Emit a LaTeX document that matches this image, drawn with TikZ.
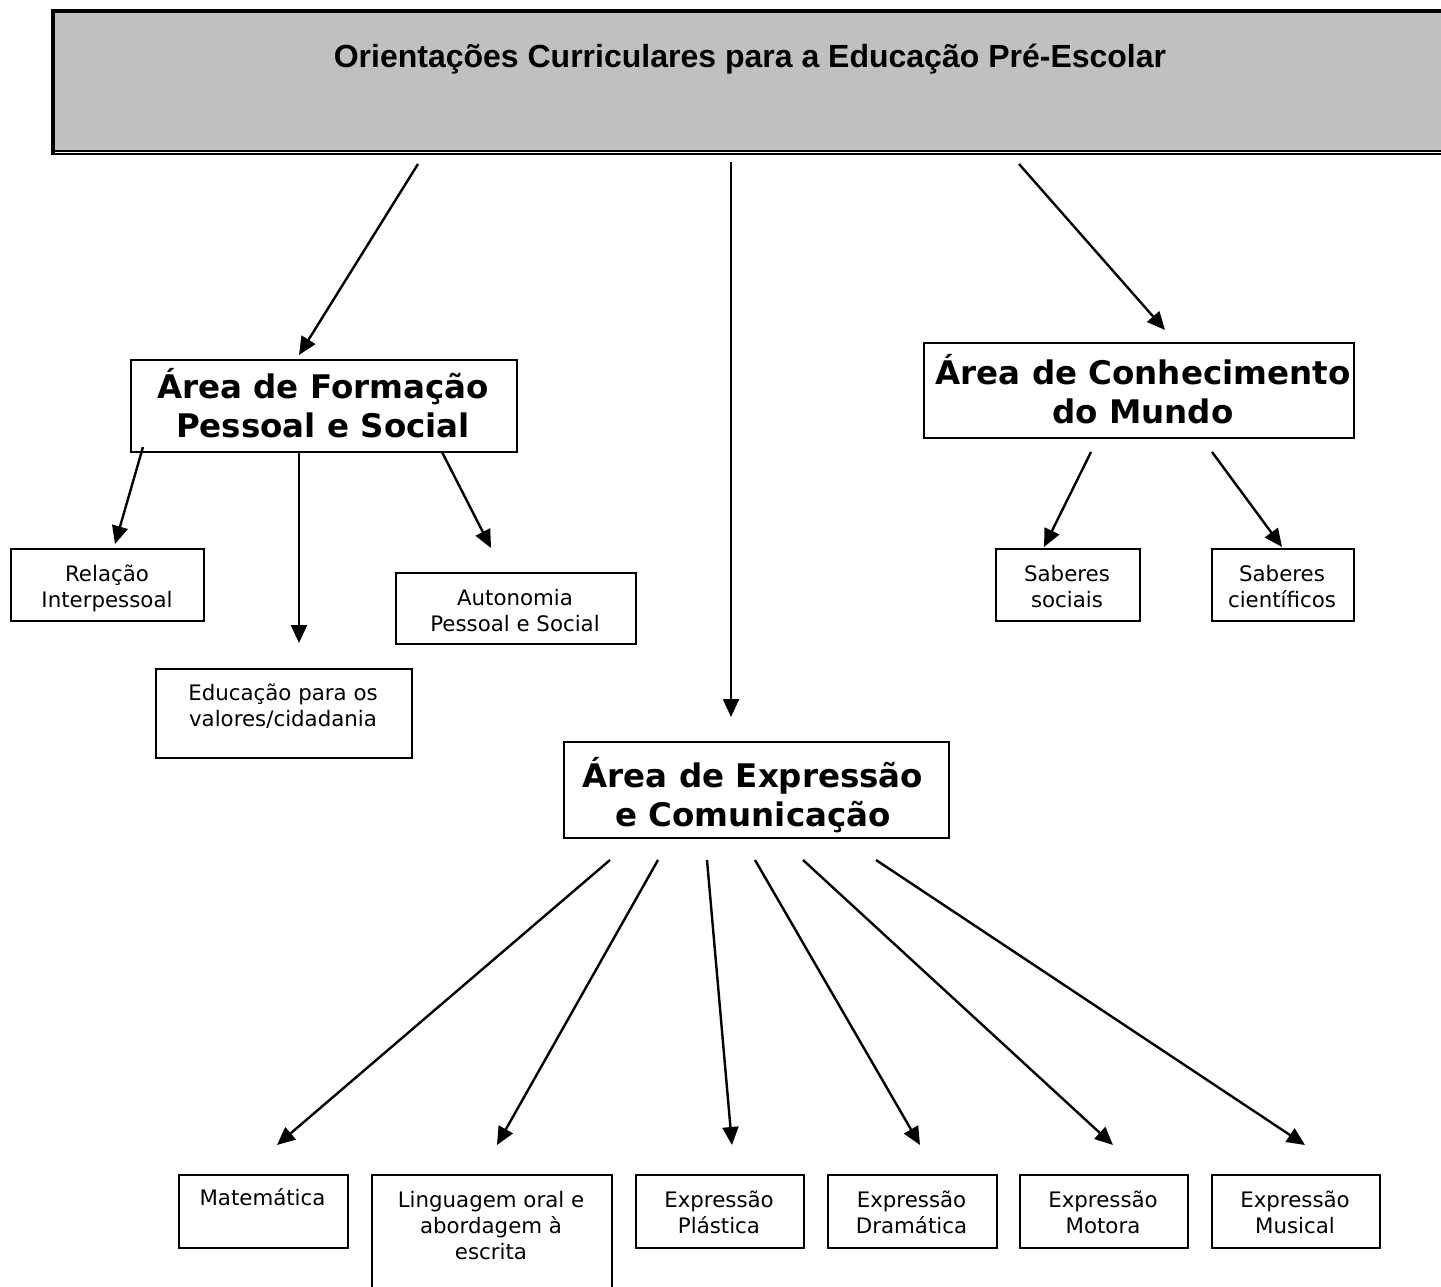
\documentclass[tikz,border=0pt]{standalone}
\usepackage{fontspec}
\setmainfont{DejaVu Sans}
\newfontfamily\titlefont{Liberation Sans}
\usetikzlibrary{arrows.meta}
\definecolor{boxgray}{RGB}{192,192,192}
\newcommand{\mlines}[1]{\begin{tabular}[t]{@{}c@{}}#1\end{tabular}}
\begin{document}
\begin{tikzpicture}[x=1pt,y=-1pt,
  bx/.style={draw=black, line width=2.2pt, rectangle, inner sep=0pt, anchor=north west},
  lbl/.style={anchor=base, inner sep=0pt, font=\fontsize{21.33}{26}\selectfont},
  big/.style={anchor=base, inner sep=0pt, font=\fontsize{32.5}{39}\selectfont\bfseries},
  arr/.style={line width=2.4pt, -{Triangle[length=18pt,width=16pt]}}
]
\path[use as bounding box] (0,0) rectangle (1441,1287);
\clip (0,0) rectangle (1441,1287);

% title box
\node[fill=boxgray, inner sep=0pt, anchor=north west, minimum width=1400pt, minimum height=141pt] (top) at (53,11) {};
\draw[line width=4pt] (53,9) -- (53,155);
\draw[line width=4pt] (51,11) -- (1460,11);
\draw[line width=2pt] (53,151) -- (1460,151);
\draw[line width=2pt] (51,154) -- (1460,154);
\node[anchor=base, inner sep=0pt, font=\titlefont\bfseries\fontsize{32}{38}\selectfont] (toptext) at (750,68) {Orientações Curriculares para a Educação Pré-Escolar};

% area boxes
\node[bx, minimum width=386pt, minimum height=92pt] (form) at (130,359) {};
\node[big] (formt) at (323,398) {\mlines{Área de Formação\\Pessoal e Social}};
\node[bx, minimum width=430pt, minimum height=95pt] (conh) at (923,342) {};
\node[big] (conht) at (1143,384) {\mlines{Área de Conhecimento\\do Mundo}};
\node[bx, minimum width=385pt, minimum height=96pt] (expr) at (563,741) {};
\node[big] (exprt) at (753,787) {\mlines{Área de Expressão\\e Comunicação}};

% small boxes
\node[bx, minimum width=193pt, minimum height=72pt] (rel) at (10,548) {};
\node[lbl] (relt) at (107,581) {\mlines{Relação\\Interpessoal}};
\node[bx, minimum width=240pt, minimum height=71pt] (auto) at (395,572) {};
\node[lbl] (autot) at (515,605) {\mlines{Autonomia\\Pessoal e Social}};
\node[bx, minimum width=256pt, minimum height=89pt] (edu) at (155,668) {};
\node[lbl] (edut) at (283,700) {\mlines{Educação para os\\valores/cidadania}};
\node[bx, minimum width=144pt, minimum height=72pt] (socs) at (995,548) {};
\node[lbl] (socst) at (1067,581) {\mlines{Saberes\\sociais}};
\node[bx, minimum width=142pt, minimum height=72pt] (cien) at (1211,548) {};
\node[lbl] (cient) at (1282,581) {\mlines{Saberes\\científicos}};

\node[bx, minimum width=169pt, minimum height=73pt] (mat) at (178,1174) {};
\node[lbl] (matt) at (262.5,1205) {Matemática};
\node[bx, minimum width=240pt, minimum height=130pt] (ling) at (371,1174) {};
\node[lbl] (lingt) at (491,1207) {\mlines{Linguagem oral e\\abordagem à\\escrita}};
\node[bx, minimum width=168pt, minimum height=73pt] (plas) at (635,1174) {};
\node[lbl] (plast) at (719,1207) {\mlines{Expressão\\Plástica}};
\node[bx, minimum width=169pt, minimum height=73pt] (dram) at (827,1174) {};
\node[lbl] (dramt) at (911.5,1207) {\mlines{Expressão\\Dramática}};
\node[bx, minimum width=168pt, minimum height=73pt] (moto) at (1019,1174) {};
\node[lbl] (motot) at (1103,1207) {\mlines{Expressão\\Motora}};
\node[bx, minimum width=168pt, minimum height=73pt] (musi) at (1211,1174) {};
\node[lbl] (musit) at (1295,1207) {\mlines{Expressão\\Musical}};

% connector end points
\coordinate (a1s) at (418,164); \coordinate (a1e) at (299,355);
\coordinate (a2s) at (731,162); \coordinate (a2e) at (731,717);
\coordinate (a3s) at (1019,164); \coordinate (a3e) at (1165,330);
\coordinate (b1s) at (143,447); \coordinate (b1e) at (115,544);
\coordinate (b2s) at (299,452); \coordinate (b2e) at (299,643);
\coordinate (b3s) at (442,452); \coordinate (b3e) at (491,548);
\coordinate (c1s) at (1091,452); \coordinate (c1e) at (1044,547);
\coordinate (c2s) at (1212,452); \coordinate (c2e) at (1282,547);
\coordinate (d1s) at (610,860); \coordinate (d1e) at (277,1145);
\coordinate (d2s) at (658,860); \coordinate (d2e) at (497,1145);
\coordinate (d3s) at (707,860); \coordinate (d3e) at (732,1145);
\coordinate (d4s) at (755,860); \coordinate (d4e) at (920,1145);
\coordinate (d5s) at (803,860); \coordinate (d5e) at (1113,1145);
\coordinate (d6s) at (876,860); \coordinate (d6e) at (1305,1145);

\foreach \a in {a1,a2,a3,b1,b2,b3,c1,c2,d1,d2,d3,d4,d5,d6}
  \draw[arr] (\a s) -- (\a e);
\end{tikzpicture}
\end{document}
